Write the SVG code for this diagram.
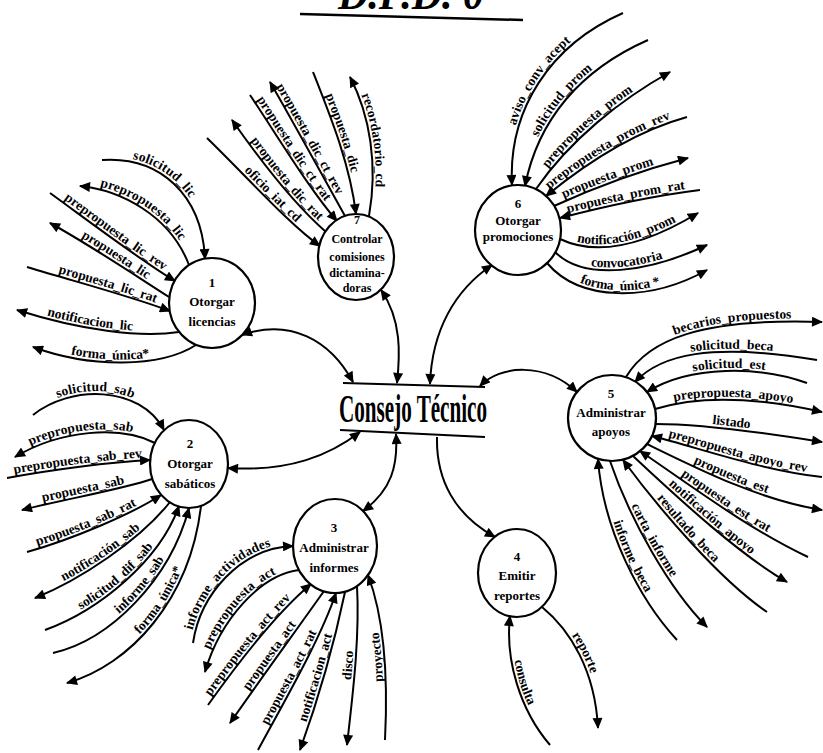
<svg xmlns="http://www.w3.org/2000/svg" width="823" height="753" viewBox="0 0 823 753">
<style>
.fl{fill:none;stroke:#000;stroke-width:2}
.e{marker-end:url(#ah)}
.s{marker-start:url(#ah)}
.b{marker-start:url(#ah);marker-end:url(#ah)}
.lb{font-family:"Liberation Serif","Times New Roman",serif;font-weight:bold;font-size:13.5px;text-anchor:middle}
.pc{fill:#fff;stroke:#000;stroke-width:2.2}
.pt{font-family:"Liberation Serif","Times New Roman",serif;font-weight:bold;font-size:13px;text-anchor:middle}
.pt7{font-size:12px}
.ct{font-family:"Liberation Serif","Times New Roman",serif;font-weight:bold;font-size:40px}
.ttl{font-family:"Liberation Serif","Times New Roman",serif;font-weight:bold;font-style:italic;font-size:44px}
</style>
<defs>
<marker id="ah" viewBox="0 0 10 9" refX="9" refY="4.5" markerWidth="12" markerHeight="10" markerUnits="userSpaceOnUse" orient="auto-start-reverse"><path d="M0,0L10,4.5L0,9z"/></marker>
</defs>
<rect width="823" height="753" fill="#fff"/>

<!-- title -->
<g id="title">
<text class="ttl" x="338" y="9" textLength="146" lengthAdjust="spacingAndGlyphs">D.F.D. 0</text>
<path d="M300,14L523,20" stroke="#000" stroke-width="2.5" fill="none"/>
</g>

<!-- data flows -->
<g id="connectors">
<!-- 1 Otorgar licencias -->
<path id="l1" class="fl e" d="M102,160 C160,156 202,195 205,259"/>
<path id="l2" class="fl s" d="M80,186 C120,190 170,215 189,265"/>
<path id="l3" class="fl e" d="M50,193 C90,222 140,260 175,281"/>
<path id="l4" class="fl s" d="M50,223 C90,245 130,272 169,297"/>
<path id="l5" class="fl e" d="M27,267 C80,283 130,296 170,311"/>
<path id="l6" class="fl s" d="M17,310 C80,330 140,338 179,332"/>
<path id="l7" class="fl s" d="M33,347 C90,368 160,368 196,345"/>
<!-- 7 Controlar comisiones dictaminadoras -->
<path id="c1" class="fl e" d="M207,138 C250,180 290,225 320,246"/>
<path id="c2" class="fl s" d="M232,120 C260,160 295,205 326,232"/>
<path id="c3" class="fl e" d="M250,95 C280,140 310,190 337,221"/>
<path id="c4" class="fl s" d="M270,82 C295,125 322,175 345,216"/>
<path id="c5" class="fl e" d="M313,72 C332,120 350,165 356,214"/>
<path id="c6" class="fl s" d="M350,77 C370,115 378,165 369,216"/>
<!-- 6 Otorgar promociones -->
<path id="p1" class="fl s" d="M512,185 C508,110 550,45 623,13"/>
<path id="p2" class="fl s" d="M525,186 C538,120 580,70 648,40"/>
<path id="p3" class="fl e" d="M536,189 C570,140 620,100 670,72"/>
<path id="p4" class="fl s" d="M546,196 C590,160 640,130 687,117"/>
<path id="p5" class="fl e" d="M554,206 C600,185 650,168 688,158"/>
<path id="p6" class="fl s" d="M560,218 C610,205 660,195 700,190"/>
<path id="p7" class="fl e" d="M560,239 C600,258 650,242 698,213"/>
<path id="p8" class="fl e" d="M555,252 C585,282 650,272 707,245"/>
<path id="p9" class="fl e" d="M547,263 C580,302 650,302 707,270"/>
<!-- 5 Administrar apoyos -->
<path id="a1" class="fl e" d="M626,377 C648,340 700,318 822,322"/>
<path id="a2" class="fl s" d="M635,382 C660,355 710,342 817,360"/>
<path id="a3" class="fl s" d="M647,392 C690,365 760,366 807,383"/>
<path id="a4" class="fl e" d="M655,409 C700,395 760,398 822,412"/>
<path id="a5" class="fl e" d="M656,424 C700,424 760,432 822,442"/>
<path id="a6" class="fl s" d="M652,436 C700,448 760,470 822,477"/>
<path id="a7" class="fl e" d="M647,444 C700,470 760,500 822,510"/>
<path id="a8" class="fl s" d="M640,451 C690,485 750,530 808,557"/>
<path id="a9" class="fl e" d="M633,456 C680,500 740,555 787,582"/>
<path id="a10" class="fl s" d="M623,460 C660,510 720,580 767,612"/>
<path id="a11" class="fl e" d="M610,461 C630,520 670,590 707,627"/>
<path id="a12" class="fl s" d="M598,459 C603,530 640,600 677,640"/>
<!-- 2 Otorgar sabáticos -->
<path id="s1" class="fl e" d="M33,415 C70,385 140,385 164,430"/>
<path id="s2" class="fl s" d="M15,457 C60,430 120,425 155,443"/>
<path id="s3" class="fl e" d="M7,478 C50,470 110,462 150,460"/>
<path id="s4" class="fl s" d="M22,510 C60,500 120,490 152,479"/>
<path id="s5" class="fl e" d="M27,552 C70,540 130,515 161,495"/>
<path id="s6" class="fl s" d="M35,598 C80,580 140,540 170,502"/>
<path id="s7" class="fl e" d="M45,630 C100,610 160,560 179,506"/>
<path id="s8" class="fl e" d="M53,653 C110,640 170,580 189,508"/>
<path id="s9" class="fl s" d="M67,683 C130,665 190,600 201,506"/>
<!-- 3 Administrar informes -->
<path id="r1" class="fl e" d="M193,643 C200,595 240,548 293,546"/>
<path id="r2" class="fl s" d="M205,672 C220,620 260,575 299,570"/>
<path id="r3" class="fl e" d="M208,705 C240,660 280,610 311,584"/>
<path id="r4" class="fl s" d="M230,723 C260,680 300,625 324,591"/>
<path id="r5" class="fl e" d="M258,750 C285,700 320,640 336,593"/>
<path id="r6" class="fl s" d="M300,750 C318,700 335,640 345,592"/>
<path id="r7" class="fl s" d="M347,745 C352,700 360,640 357,586"/>
<path id="r8" class="fl e" d="M385,740 C388,680 385,620 368,575"/>
<!-- 4 Emitir reportes -->
<path id="t1" class="fl e" d="M542,607 C570,630 595,670 598,728"/>
<path id="t2" class="fl s" d="M510,616 C505,660 520,710 550,745"/>
<!-- links with Consejo Técnico -->
<path class="fl b" d="M242,335 C290,318 330,340 353,382"/>
<path class="fl b" d="M381,290 C402,320 400,355 397,383"/>
<path class="fl b" d="M430,384 C432,330 455,290 492,265"/>
<path class="fl b" d="M480,386 C500,365 545,362 577,392"/>
<path class="fl b" d="M228,468 C290,472 330,455 360,432"/>
<path class="fl b" d="M363,511 C392,490 398,465 396,434"/>
<path class="fl e" d="M437,437 C436,480 455,515 495,537"/>

<g id="flow-labels">
<text class="lb"><textPath href="#l1" startOffset="40%"><tspan dy="-3">solicitud_lic</tspan></textPath></text>
<text class="lb"><textPath href="#l2" startOffset="48%"><tspan dy="-3">prepropuesta_lic</tspan></textPath></text>
<text class="lb"><textPath href="#l3" startOffset="50%"><tspan dy="-3">prepropuesta_lic_rev</tspan></textPath></text>
<text class="lb"><textPath href="#l4" startOffset="52%"><tspan dy="-3">propuesta_lic</tspan></textPath></text>
<text class="lb"><textPath href="#l5" startOffset="55%"><tspan dy="-3">propuesta_lic_rat</tspan></textPath></text>
<text class="lb"><textPath href="#l6" startOffset="45%"><tspan dy="-3">notificacion_lic</tspan></textPath></text>
<text class="lb"><textPath href="#l7" startOffset="47%"><tspan dy="-3">forma_única*</tspan></textPath></text>

<text class="lb"><textPath href="#c1" startOffset="55%"><tspan dy="-3">oficio_iat_cd</tspan></textPath></text>
<text class="lb"><textPath href="#c2" startOffset="55%"><tspan dy="-3">propuesta_dic_rat</tspan></textPath></text>
<text class="lb"><textPath href="#c3" startOffset="45%"><tspan dy="-3">propuesta_dic_ct_rat</tspan></textPath></text>
<text class="lb"><textPath href="#c4" startOffset="45%"><tspan dy="-3">propuesta_dic_ct_rev</tspan></textPath></text>
<text class="lb"><textPath href="#c5" startOffset="45%"><tspan dy="-3">propuesta_dic</tspan></textPath></text>
<text class="lb"><textPath href="#c6" startOffset="47%"><tspan dy="-3">recordatorio_cd</tspan></textPath></text>

<text class="lb"><textPath href="#p1" startOffset="50%"><tspan dy="-3">aviso_conv_acept</tspan></textPath></text>
<text class="lb"><textPath href="#p2" startOffset="47%"><tspan dy="-3">solicitud_prom</tspan></textPath></text>
<text class="lb"><textPath href="#p3" startOffset="45%"><tspan dy="-3">prepropuesta_prom</tspan></textPath></text>
<text class="lb"><textPath href="#p4" startOffset="47%"><tspan dy="-3">prepropuesta_prom_rev</tspan></textPath></text>
<text class="lb"><textPath href="#p5" startOffset="42%"><tspan dy="-3">propuesta_prom</tspan></textPath></text>
<text class="lb"><textPath href="#p6" startOffset="48%"><tspan dy="-3">propuesta_prom_rat</tspan></textPath></text>
<text class="lb"><textPath href="#p7" startOffset="48%"><tspan dy="-3">notificación_prom</tspan></textPath></text>
<text class="lb"><textPath href="#p8" startOffset="48%"><tspan dy="-3">convocatoria</tspan></textPath></text>
<text class="lb"><textPath href="#p9" startOffset="47%"><tspan dy="-3">forma_única *</tspan></textPath></text>

<text class="lb"><textPath href="#a1" startOffset="58%"><tspan dy="-3">becarios_propuestos</tspan></textPath></text>
<text class="lb"><textPath href="#a2" startOffset="55%"><tspan dy="-3">solicitud_beca</tspan></textPath></text>
<text class="lb"><textPath href="#a3" startOffset="52%"><tspan dy="-3">solicitud_est</tspan></textPath></text>
<text class="lb"><textPath href="#a4" startOffset="47%"><tspan dy="-3">prepropuesta_apoyo</tspan></textPath></text>
<text class="lb"><textPath href="#a5" startOffset="45%"><tspan dy="-3">listado</tspan></textPath></text>
<text class="lb"><textPath href="#a6" startOffset="50%"><tspan dy="-3">prepropuesta_apoyo_rev</tspan></textPath></text>
<text class="lb"><textPath href="#a7" startOffset="48%"><tspan dy="-3">propuesta_est</tspan></textPath></text>
<text class="lb"><textPath href="#a8" startOffset="50%"><tspan dy="-3">propuesta_est_rat</tspan></textPath></text>
<text class="lb"><textPath href="#a9" startOffset="50%"><tspan dy="-3">notificación_apoyo</tspan></textPath></text>
<text class="lb"><textPath href="#a10" startOffset="45%"><tspan dy="-3">resultado_beca</tspan></textPath></text>
<text class="lb"><textPath href="#a11" startOffset="47%"><tspan dy="-3">carta_informe</tspan></textPath></text>
<text class="lb"><textPath href="#a12" startOffset="52%"><tspan dy="-3">informe_beca</tspan></textPath></text>

<text class="lb"><textPath href="#s1" startOffset="45%"><tspan dy="-3">solicitud_sab</tspan></textPath></text>
<text class="lb"><textPath href="#s2" startOffset="48%"><tspan dy="-3">prepropuesta_sab</tspan></textPath></text>
<text class="lb"><textPath href="#s3" startOffset="50%"><tspan dy="-3">prepropuesta_sab_rev</tspan></textPath></text>
<text class="lb"><textPath href="#s4" startOffset="48%"><tspan dy="-3">propuesta_sab</tspan></textPath></text>
<text class="lb"><textPath href="#s5" startOffset="45%"><tspan dy="-3">propuesta_sab_rat</tspan></textPath></text>
<text class="lb"><textPath href="#s6" startOffset="48%"><tspan dy="-3">notificación_sab</tspan></textPath></text>
<text class="lb"><textPath href="#s7" startOffset="48%"><tspan dy="-3">solicitud_dif_sab</tspan></textPath></text>
<text class="lb"><textPath href="#s8" startOffset="55%"><tspan dy="-3">informe_sab</tspan></textPath></text>
<text class="lb"><textPath href="#s9" startOffset="55%"><tspan dy="-3">forma_única*</tspan></textPath></text>

<text class="lb"><textPath href="#r1" startOffset="47%"><tspan dy="-3">informe_actividades</tspan></textPath></text>
<text class="lb"><textPath href="#r2" startOffset="50%"><tspan dy="-3">prepropuesta_act</tspan></textPath></text>
<text class="lb"><textPath href="#r3" startOffset="45%"><tspan dy="-3">prepropuesta_act_rev</tspan></textPath></text>
<text class="lb"><textPath href="#r4" startOffset="48%"><tspan dy="-3">propuesta_act</tspan></textPath></text>
<text class="lb"><textPath href="#r5" startOffset="45%"><tspan dy="-3">propuesta_act_rat</tspan></textPath></text>
<text class="lb"><textPath href="#r6" startOffset="45%"><tspan dy="-3">notificacion_act</tspan></textPath></text>
<text class="lb"><textPath href="#r7" startOffset="50%"><tspan dy="-3">disco</tspan></textPath></text>
<text class="lb"><textPath href="#r8" startOffset="50%"><tspan dy="-3">proyecto</tspan></textPath></text>

<text class="lb"><textPath href="#t1" startOffset="45%"><tspan dy="-3">reporte</tspan></textPath></text>
<text class="lb"><textPath href="#t2" startOffset="50%"><tspan dy="-3">consulta</tspan></textPath></text>
</g>
</g>

<!-- external entity -->
<g id="consejo-tecnico">
<path d="M343,383L485,387M340,430L485,437" stroke="#000" stroke-width="2" fill="none"/>
<text class="ct" x="339" y="422" textLength="148" lengthAdjust="spacingAndGlyphs">Consejo Técnico</text>
</g>

<!-- processes -->
<g id="p-1">
<ellipse class="pc" cx="212" cy="303" rx="43" ry="45"/>
<text class="pt" x="212" y="287">1</text>
<text class="pt" x="212" y="306">Otorgar</text>
<text class="pt" x="212" y="326">licencias</text>
</g>
<g id="p-2">
<ellipse class="pc" cx="189" cy="464" rx="39" ry="44"/>
<text class="pt" x="190" y="448">2</text>
<text class="pt" x="190" y="468">Otorgar</text>
<text class="pt" x="190" y="488">sabáticos</text>
</g>
<g id="p-3">
<ellipse class="pc" cx="335" cy="546" rx="42" ry="47"/>
<text class="pt" x="334" y="532">3</text>
<text class="pt" x="334" y="552">Administrar</text>
<text class="pt" x="334" y="572">informes</text>
</g>
<g id="p-4">
<ellipse class="pc" cx="517" cy="573" rx="39" ry="44"/>
<text class="pt" x="517" y="561">4</text>
<text class="pt" x="517" y="580">Emitir</text>
<text class="pt" x="517" y="600">reportes</text>
</g>
<g id="p-5">
<ellipse class="pc" cx="612" cy="418" rx="44" ry="43"/>
<text class="pt" x="611" y="398">5</text>
<text class="pt" x="611" y="417">Administrar</text>
<text class="pt" x="611" y="436">apoyos</text>
</g>
<g id="p-6">
<ellipse class="pc" cx="518" cy="230" rx="43" ry="45"/>
<text class="pt" x="518" y="208">6</text>
<text class="pt" x="518" y="225">Otorgar</text>
<text class="pt" x="518" y="241">promociones</text>
</g>
<g id="p-7">
<ellipse class="pc" cx="356" cy="257" rx="38" ry="43"/>
<text class="pt pt7" x="357" y="224">7</text>
<text class="pt pt7" x="357" y="243">Controlar</text>
<text class="pt pt7" x="357" y="261">comisiones</text>
<text class="pt pt7" x="357" y="277">dictamina-</text>
<text class="pt pt7" x="357" y="292">doras</text>
</g>
</svg>
